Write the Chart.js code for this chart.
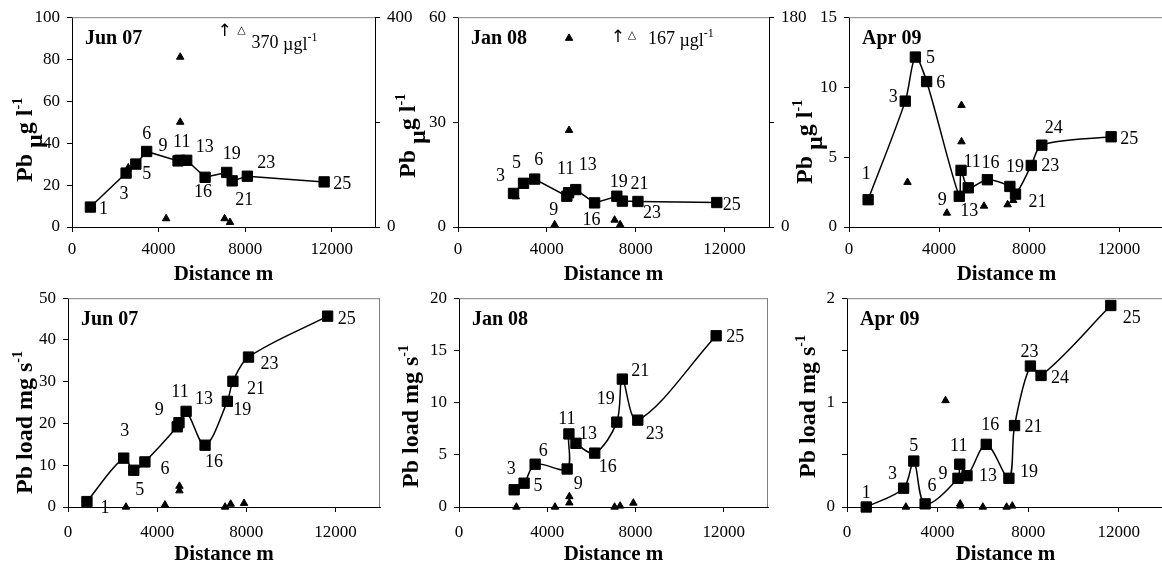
<!DOCTYPE html>
<html lang="en">
<head>
<meta charset="UTF-8">
<title>Pb concentration and load along the stream</title>
<script src="https://cdn.jsdelivr.net/npm/chart.js"></script>
<style>
  body { margin: 0; background: #fff; width: 1162px; height: 572px; overflow: hidden; position: relative; }
  canvas { position: absolute; }
</style>
</head>
<body>
<script>
// sampling sites along the stream and their distance (m)
const siteNo   = [1, 3, 5, 6, 9, 11, 13, 16, 19, 21, 23, 24, 25];
const siteDist = [850, 2500, 2950, 3450, 4900, 4980, 5300, 6150, 7150, 7400, 8100, 8570, 11650];
// tributary samples (triangles)
const triDist  = [2600, 4350, 5000, 5000, 6000, 7050, 7300, 7900];

// Pb concentration, ug l-1 (squares)
const concJun07 = [9.5, 25.7, 30, 36, 31.5, 31.8, 31.8, 23.7, 26, 22, 24.2, null, 21.5];
const concJan08 = [null, 9.6, 12.5, 13.7, 8.8, 9.8, 10.7, 6.9, 8.8, 7.4, 7.3, null, 7.0];
const concApr09 = [1.95, 9.0, 12.15, 10.4, 2.2, 4.05, 2.8, 3.38, 2.9, 2.35, 4.4, 5.85, 6.45];
// tributary concentration (Jun 07 and Jan 08 on the right hand axis)
const triConcJun07 = [113, 16, 324, 200, null, 16, 9, null];
const triConcJan08 = [26, 2, 162, 83, null, 6, 2, null];
const triConcApr09 = [3.2, 1.0, 8.7, 6.1, 1.5, 1.6, 1.9, null];

// Pb load, mg s-1
const loadJun07 = [1.3, 11.7, 8.8, 10.8, 19.2, 20.2, 22.9, 14.8, 25.3, 30.1, 35.9, null, 45.7];
const loadJan08 = [null, 1.65, 2.28, 4.1, 3.64, 7.0, 6.1, 5.16, 8.13, 12.25, 8.32, null, 16.4];
const loadApr09 = [0.0, 0.18, 0.44, 0.03, 0.275, 0.41, 0.3, 0.6, 0.275, 0.78, 1.35, 1.26, 1.93];
const triLoadJun07 = [0, 0.5, 5.0, 3.9, null, 0, 0.7, 0.9];
const triLoadJan08 = [0, 0, 1.0, 0.4, null, 0, 0.1, 0.38];
const triLoadApr09 = [0, 1.02, 0.01, 0.03, 0, 0, 0.01, null];

// tick values
const xTicks = [0, 4000, 8000, 12000];
const yTicksJun07 = [0, 20, 40, 60, 80, 100];
const yTicksJan08 = [0, 30, 60];
const yTicksApr09 = [0, 5, 10, 15];
const y2TicksJun07 = [0, 200, 400];
const y2TicksJan08 = [0, 90, 180];
const yTicksLoadJun07 = [0, 10, 20, 30, 40, 50];
const yTicksLoadJan08 = [0, 5, 10, 15, 20];
const yTicksLoadApr09 = [0, 0.5, 1, 1.5, 2];

// label offsets (px) for the site numbers, same order as siteNo
const offConcJun07 = [[13,2],[-2,21],[11,10],[0,-17],[-15,-15],[2,-18],[18,-13],[-2,15],[5,-18],[12,19],[19,-13],null,[18,2]];
const offConcJan08 = [null,[-13,-17],[-7,-20],[4,-19],[-13,14],[-3,-23],[12,-24],[-3,17],[2,-14],[17,-17],[14,12],null,[15,3]];
const offConcApr09 = [[-2,-25],[-12,-4],[15,1],[14,2],[-17,4],[11,-8],[1,23],[3,-16],[5,-19],[22,8],[19,1],[12,-17],[18,2]];
const offLoadJun07 = [[18,7],[1,-27],[6,20],[20,7],[-18,-17],[1,-30],[18,-12],[9,17],[15,9],[23,8],[21,7],null,[19,3]];
const offLoadJan08 = [null,[-3,-21],[14,3],[8,-13],[11,15],[-2,-15],[12,-9],[13,14],[-11,-23],[18,-8],[17,14],null,[19,1]];
const offLoadApr09 = [[0,-14],[-11,-14],[0,-15],[7,-18],[-15,-4],[-1,-18],[21,1],[4,-19],[20,-6],[19,2],[-1,-14],[19,3],[21,13]];

const SERIF = '"Liberation Serif", "Times New Roman", serif';
const B24 = 'bold 24px ' + SERIF;
const S14 = 'bold 14px ' + SERIF;
const concTitle = [['Pb ', B24, 0], ['\u00b5', B24, 10], ['g l', B24, 0], ['-1', S14, -10]];
const loadTitle = [['Pb load mg s', B24, 0], ['-1', S14, -10]];

function drawRun(c, pieces, x, y) {
  for (const p of pieces) {
    c.font = p[1];
    c.fillText(p[0], x, y + p[2]);
    x += c.measureText(p[0]).width;
  }
  return x;
}

function panel(o) {
  const LP = 72, RP = 50, TP = 15, BP = 60;
  const w = o.right - o.left, h = o.bottom - o.top;
  const cv = document.createElement('canvas');
  cv.width = w + LP + RP; cv.height = h + TP + BP;
  cv.style.width = cv.width + 'px'; cv.style.height = cv.height + 'px';
  cv.style.left = (o.left - LP) + 'px'; cv.style.top = (o.top - TP) + 'px';
  document.body.appendChild(cv);
  const ox = o.left - LP, oy = o.top - TP;

  const pts = [];
  siteDist.forEach((d, i) => { if (o.vals[i] != null) pts.push({ x: d, y: o.vals[i], no: siteNo[i], off: o.offs[i] }); });
  const tri = [];
  triDist.forEach((d, i) => { if (o.tri[i] != null) tri.push({ x: d, y: o.tri[i] }); });

  const tickFont = { family: SERIF, size: 17 };
  const yAxis = (ticks, labeled, pos, max) => ({
    type: 'linear', position: pos, min: 0, max: max,
    afterBuildTicks: s => { s.ticks = ticks.map(v => ({ value: v })); },
    afterFit: s => { s.width = pos === 'left' ? LP : RP; },
    ticks: { font: tickFont, color: '#000', padding: 7,
      callback: v => (labeled.includes(v) ? String(v) : '') },
    grid: { drawOnChartArea: false, drawTicks: true, tickLength: 5, color: '#000' },
    border: { color: '#000', width: 1 }
  });

  const scales = {
    x: {
      type: 'linear', min: 0, max: 14000,
      afterBuildTicks: s => { s.ticks = xTicks.map(v => ({ value: v })); },
      afterFit: s => { s.height = BP; },
      ticks: { font: tickFont, color: '#000', padding: o.xPad, maxRotation: 0, callback: v => String(v) },
      grid: { drawOnChartArea: false, tickLength: 5, color: '#000' },
      border: { color: '#000', width: 1 }
    },
    y: yAxis(o.yTicks, o.yLabeled || o.yTicks, 'left', o.yMax)
  };
  if (o.y2Max) scales.y2 = yAxis(o.y2Ticks, [0, o.y2Max], 'right', o.y2Max);

  const decor = {
    id: 'decor',
    beforeDatasetsDraw(chart) {
      const a = chart.chartArea, c = chart.ctx;
      c.save();
      c.strokeStyle = '#7f7f7f'; c.lineWidth = 1;
      c.beginPath();
      c.moveTo(a.left, a.top + 0.5); c.lineTo(a.right, a.top + 0.5);
      if (!o.y2Max) { c.moveTo(a.right - 0.5, a.top); c.lineTo(a.right - 0.5, a.bottom); }
      c.stroke();
      c.restore();
    },
    afterDatasetsDraw(chart) {
      const a = chart.chartArea, c = chart.ctx;
      const xs = chart.scales.x, ys = chart.scales.y;
      c.save();
      c.fillStyle = '#000';
      // site numbers
      c.font = '18px ' + SERIF; c.textAlign = 'center'; c.textBaseline = 'middle';
      pts.forEach(p => {
        c.fillText(String(p.no), xs.getPixelForValue(p.x) + p.off[0], ys.getPixelForValue(p.y) + p.off[1]);
      });
      // panel name
      c.font = 'bold 20px ' + SERIF; c.textAlign = 'left';
      c.fillText(o.name, a.left + 13, a.top + 22);
      // x title
      c.font = 'bold 21px ' + SERIF; c.textAlign = 'center';
      c.fillText('Distance m', (a.left + a.right) / 2, a.bottom + 48);
      // off-scale note
      if (o.note) {
        const n = o.note;
        const px = xs.getPixelForValue(n.x), py = ys.getPixelForValue(n.y);
        c.font = '17px "DejaVu Sans"'; c.textAlign = 'center';
        c.fillText('\u2191', px, py);
        c.font = '11px "DejaVu Sans"';
        c.fillText('\u25b3', px + n.tri, py - 2);
        c.textAlign = 'left'; c.textBaseline = 'alphabetic';
        drawRun(c, [[n.text + ' ', '18px ' + SERIF, 0], ['\u00b5gl', '18px ' + SERIF, 2], ['-1', '12px ' + SERIF, -7]], px + n.tx, py + n.ty);
      }
      // y title, rotated
      c.translate(o.titleX - ox, o.titleBottom - oy);
      c.rotate(-Math.PI / 2);
      c.textAlign = 'left'; c.textBaseline = 'alphabetic';
      drawRun(c, o.title, 0, 0);
      c.restore();
    }
  };

  new Chart(cv, {
    type: 'scatter',
    data: {
      datasets: [
        { data: tri, showLine: false, pointStyle: 'triangle', pointRadius: 4.3,
          pointBackgroundColor: '#000', pointBorderColor: '#000', pointBorderWidth: 1,
          yAxisID: o.y2Max ? 'y2' : 'y', clip: false },
        { data: pts, showLine: true, tension: o.tension, borderColor: '#000', borderWidth: 1.5,
          pointStyle: 'rect', pointRadius: 7.3, pointBackgroundColor: '#000', pointBorderColor: '#000',
          pointBorderWidth: 1, yAxisID: 'y', clip: false }
      ]
    },
    options: {
      responsive: false, animation: false, devicePixelRatio: 1,
      layout: { padding: { top: TP, right: o.y2Max ? 0 : RP, left: 0, bottom: 0 } },
      plugins: { legend: { display: false }, tooltip: { enabled: false } },
      scales: scales
    },
    plugins: [decor]
  });
}

panel({ left: 72, right: 375, top: 15, bottom: 227, name: 'Jun 07', vals: concJun07, offs: offConcJun07,
  tri: triConcJun07, yMax: 100, yTicks: yTicksJun07, y2Max: 400, y2Ticks: y2TicksJun07, tension: 0, xPad: 7,
  title: concTitle, titleX: 32, titleBottom: 182, note: { x: 7050, y: 93, text: '370', tri: 17, tx: 27, ty: 16 } });
panel({ left: 458, right: 769, top: 15, bottom: 227, name: 'Jan 08', vals: concJan08, offs: offConcJan08,
  tri: triConcJan08, yMax: 60, yTicks: yTicksJan08, y2Max: 180, y2Ticks: y2TicksJan08, tension: 0, xPad: 7,
  title: concTitle, titleX: 415, titleBottom: 178, note: { x: 7200, y: 54.3, text: '167', tri: 14, tx: 30, ty: 7 } });
panel({ left: 849, right: 1164, top: 15, bottom: 227, name: 'Apr 09', vals: concApr09, offs: offConcApr09,
  tri: triConcApr09, yMax: 15, yTicks: yTicksApr09, tension: 0.3, xPad: 7,
  title: concTitle, titleX: 812, titleBottom: 184 });
panel({ left: 68, right: 380, top: 296, bottom: 507, name: 'Jun 07', vals: loadJun07, offs: offLoadJun07,
  tri: triLoadJun07, yMax: 50, yTicks: yTicksLoadJun07, tension: 0.33, xPad: 10,
  title: loadTitle, titleX: 32, titleBottom: 494 });
panel({ left: 459, right: 768, top: 296, bottom: 507, name: 'Jan 08', vals: loadJan08, offs: offLoadJan08,
  tri: triLoadJan08, yMax: 20, yTicks: yTicksLoadJan08, tension: 0.33, xPad: 10,
  title: loadTitle, titleX: 418, titleBottom: 488 });
panel({ left: 847, right: 1164, top: 296, bottom: 507, name: 'Apr 09', vals: loadApr09, offs: offLoadApr09,
  tri: triLoadApr09, yMax: 2, yTicks: yTicksLoadApr09, yLabeled: [0, 1, 2], tension: 0.33, xPad: 10,
  title: loadTitle, titleX: 815, titleBottom: 478 });
</script>
</body>
</html>
